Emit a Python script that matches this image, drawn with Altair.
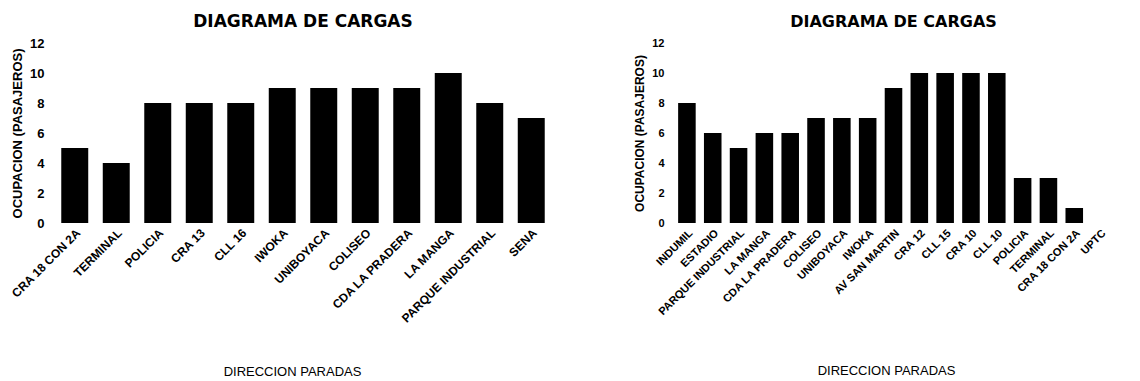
import altair as alt
import pandas as pd

left_stops = ["CRA 18 CON 2A", "TERMINAL", "POLICIA", "CRA 13", "CLL 16", "IWOKA",
              "UNIBOYACA", "COLISEO", "CDA LA PRADERA", "LA MANGA", "PARQUE INDUSTRIAL", "SENA"]
left_values = [5, 4, 8, 8, 8, 9, 9, 9, 9, 10, 8, 7]

right_stops = ["INDUMIL", "ESTADIO", "PARQUE INDUSTRIAL", "LA MANGA", "CDA LA PRADERA", "COLISEO",
               "UNIBOYACA", "IWOKA", "AV SAN MARTIN", "CRA 12", "CLL 15", "CRA 10", "CLL 10",
               "POLICIA", "TERMINAL", "CRA 18 CON 2A", "UPTC"]
right_values = [8, 6, 5, 6, 6, 7, 7, 7, 9, 10, 10, 10, 10, 3, 3, 1, 0]

y_ticks = [0, 2, 4, 6, 8, 10, 12]
FONT = "Liberation Sans"
TITLE_FONT = "DejaVu Sans"


def panel(stops, values, width, height, title_size, label_size, ylabel_size, ytitle_size,
          title_x, title_y, pad_inner, title_offset):
    df = pd.DataFrame({"parada": stops, "ocupacion": values})
    return alt.Chart(df).mark_bar(color="black").encode(
        x=alt.X("parada:N", sort=None,
                scale=alt.Scale(paddingInner=pad_inner, paddingOuter=pad_inner / 2),
                axis=alt.Axis(title="DIRECCION PARADAS", labelAngle=-45,
                              labelFont=FONT, labelFontWeight="bold", labelFontSize=label_size,
                              labelColor="black", ticks=False, domain=False, labelPadding=4,
                              titleFont=FONT, titleFontWeight="normal", titleFontSize=13,
                              titleColor="black", titleX=title_x, titleY=title_y,
                              titleBaseline="alphabetic", labelOverlap=False)),
        y=alt.Y("ocupacion:Q",
                scale=alt.Scale(domain=[0, 12], nice=False),
                axis=alt.Axis(title="OCUPACION (PASAJEROS)", values=y_ticks, grid=False,
                              ticks=False, domain=False, labelPadding=10,
                              labelFont=FONT, labelFontWeight="bold", labelFontSize=ylabel_size,
                              labelColor="black", titleFont=FONT, titleFontWeight="bold",
                              titleFontSize=ytitle_size, titleColor="black", titlePadding=5)),
    ).properties(
        width=width, height=height,
        title=alt.TitleParams("DIAGRAMA DE CARGAS", font=TITLE_FONT, fontSize=title_size,
                              fontWeight="bold", color="black", anchor="middle",
                              frame="group", offset=title_offset),
    )


left = panel(left_stops, left_values, 498, 180, 17, 12, 13, 13, 238, 152, 0.35, 6)
right = panel(right_stops, right_values, 439, 180, 16, 11, 11, 12, 212, 151, 0.32, 7)

chart = alt.hconcat(left, right, spacing=81).properties(
    padding={"left": 0, "top": 5, "right": 5, "bottom": 1}
).configure(
    background="white",
    view=alt.ViewConfig(stroke="transparent", strokeWidth=0),
)

chart.save("out.html", embed_options={"renderer": "svg", "actions": False})
